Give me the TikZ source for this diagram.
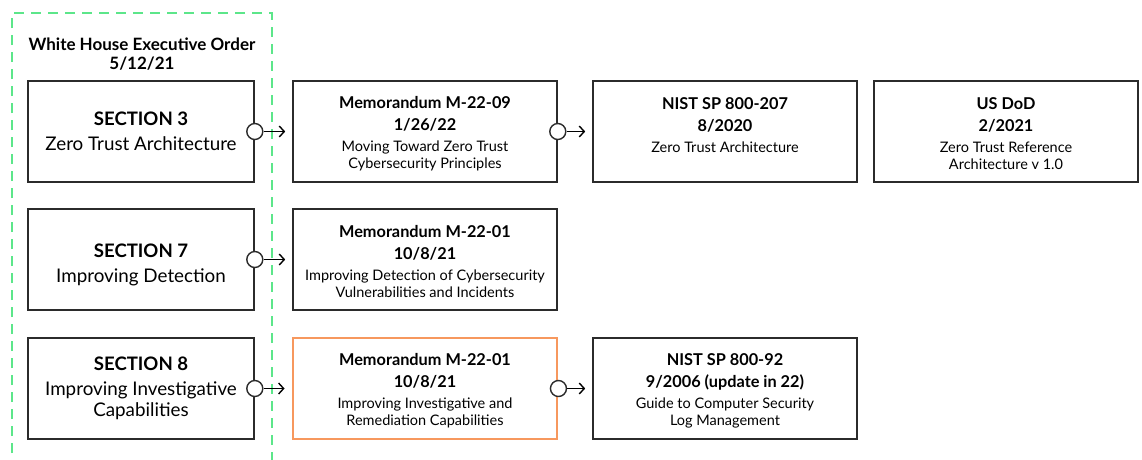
\documentclass[tikz,border=0pt]{standalone}
\usepackage{fontspec}
\setmainfont{Lato}
\usetikzlibrary{arrows.meta}
\definecolor{edge}{HTML}{2B2B2B}
\definecolor{grn}{HTML}{5CE68A}
\definecolor{orn}{HTML}{F7985E}
\newcommand{\hd}[1]{{\fontsize{16.3}{17}\selectfont\bfseries #1}}
\newcommand{\sm}[1]{{\fontsize{14.5}{17}\selectfont #1}}
\newcommand{\bighd}[1]{{\fontsize{18.6}{25}\selectfont\bfseries #1}}
\newcommand{\bigsm}[1]{{\fontsize{18.8}{25}\selectfont #1}}
\newcommand{\four}[4]{\rule{0pt}{16pt}\hd{#1}\\[5pt]\hd{#2}\\[4pt]\sm{#3}\\\sm{#4}}
\tikzset{
  box/.style={draw=edge, line width=1.6pt, fill=white, minimum width=226pt, minimum height=101pt, align=center, inner sep=0pt, text=black, font=\fontsize{18.8}{25}\selectfont},
  wbox/.style={box, minimum width=264pt, font=\fontsize{14.5}{17}\selectfont},
  obox/.style={wbox, draw=orn, line width=2.9pt},
  circ/.style={circle, draw=edge, fill=white, line width=1.4pt, minimum size=16pt, inner sep=0pt},
  arr/.style={line width=1.6pt, -{Straight Barb[length=5pt,width=11pt,line width=1.4pt]}, shorten >=7pt},
  frame/.style={draw=grn, line width=1.3pt, dash pattern=on 10pt off 7pt}
}
\begin{document}
\begin{tikzpicture}[x=1pt,y=-1pt]
\useasboundingbox[fill=white] (0,0) rectangle (1142,459);
\draw[frame] (12,470) -- (12,13) -- (272,13) -- (272,470);
\node[align=center, inner sep=0pt, font=\fontsize{17}{19}\selectfont\bfseries] (eo) at (142,54) {White House Executive Order\\5/12/21};
% column 1
\node[box] (s3) at (141,131.5) {\bighd{SECTION 3}\\\bigsm{Zero Trust Architecture}};
\node[box, label={[align=center, inner sep=0pt, font=\fontsize{18.8}{25}\selectfont, yshift=-5pt]center:{\bighd{SECTION 7}\\\bigsm{Improving Detection}}}] (s7) at (141,259.5) {};
\node[box] (s8) at (141,388.5) {\bighd{SECTION 8}\\\bigsm{Improving Investigative}\\[-4pt]\bigsm{Capabilities}};
% column 2
\node[wbox] (m9) at (425,131.5) {\four{Memorandum M-22-09}{1/26/22}{Moving Toward Zero Trust}{Cybersecurity Principles}};
\node[wbox] (m1a) at (425,259.5) {\four{Memorandum M-22-01}{10/8/21}{Improving Detection of Cybersecurity}{Vulnerabilities and Incidents}};
\node[obox] (m1b) at (425,388.5) {\four{Memorandum M-22-01}{10/8/21}{Improving Investigative and}{Remediation Capabilities}};
% column 3
\node[wbox] (n207) at (725,131.5) {\four{NIST SP 800-207}{8/2020}{Zero Trust Architecture}{\phantom{X}}};
\node[wbox] (n92) at (725,388.5) {\four{NIST SP 800-92}{9/2006 (update in 22)}{Guide to Computer Security}{Log Management}};
% column 4
\node[wbox] (dod) at (1006,131.5) {\four{US DoD}{2/2021}{Zero Trust Reference}{Architecture v 1.0}};
% connectors
\node[circ] (c1) at (s3.east) {};
\node[circ] (c2) at (s7.east) {};
\node[circ] (c3) at (s8.east) {};
\node[circ] (c4) at (m9.east) {};
\node[circ] (c5) at (m1b.east) {};
\draw[arr] (c1.east) -- (m9.west);
\draw[arr] (c2.east) -- (m1a.west);
\draw[arr] (c3.east) -- (m1b.west);
\draw[arr] (c4.east) -- (n207.west);
\draw[arr] (c5.east) -- (n92.west);
\end{tikzpicture}
\end{document}
